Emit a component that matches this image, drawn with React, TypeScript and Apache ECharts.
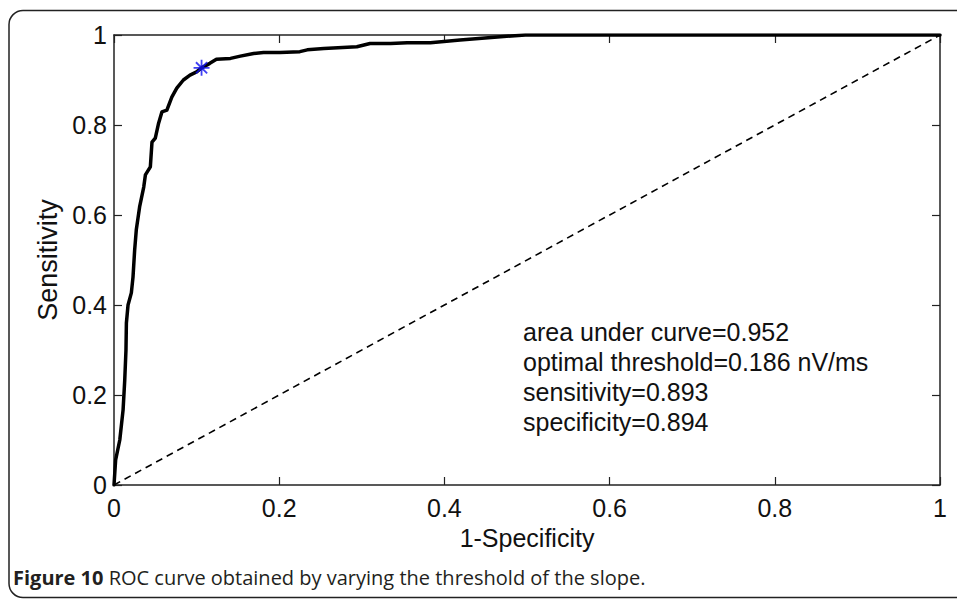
import React, { useEffect, useRef } from "react";
import * as echarts from "echarts";

// ROC curve points
const fpr = [0, 0.002, 0.007, 0.011, 0.013, 0.0145, 0.015, 0.017, 0.021, 0.023, 0.025, 0.027, 0.031, 0.036, 0.038, 0.044, 0.046, 0.05, 0.054, 0.058, 0.064, 0.07, 0.076, 0.084, 0.092, 0.1, 0.106, 0.116, 0.124, 0.141, 0.153, 0.169, 0.181, 0.201, 0.225, 0.234, 0.254, 0.294, 0.31, 0.335, 0.355, 0.383, 0.419, 0.468, 0.498, 1];
const tpr = [0, 0.056, 0.1, 0.167, 0.233, 0.3, 0.36, 0.4, 0.427, 0.462, 0.522, 0.567, 0.618, 0.662, 0.689, 0.707, 0.762, 0.771, 0.804, 0.829, 0.833, 0.862, 0.882, 0.9, 0.911, 0.918, 0.927, 0.937, 0.946, 0.948, 0.953, 0.959, 0.961, 0.961, 0.963, 0.967, 0.97, 0.974, 0.981, 0.981, 0.983, 0.983, 0.989, 0.996, 1, 1];
const diagX = [0, 1];
const diagY = [0, 1];
const optimalPoint = [0.106, 0.927];
const annotationLines = [
  "area under curve=0.952",
  "optimal threshold=0.186 nV/ms",
  "sensitivity=0.893",
  "specificity=0.894",
];
const xTitle = "1-Specificity";
const yTitle = "Sensitivity";
const captionBold = "Figure 10";
const captionRest = " ROC curve obtained by varying the threshold of the slope.";

const FONT = "'Liberation Sans', Arial, Helvetica, sans-serif";

export default function App() {
  const ref = useRef<HTMLDivElement>(null);
  useEffect(() => {
    const chart = echarts.init(ref.current!, null, { renderer: "svg" });
    const axisLineStyle = { color: "#222", width: 1.5 };
    const tick = { show: true, inside: true, length: 8, lineStyle: { color: "#222", width: 1.2 } };
    chart.setOption({
      animation: false,
      backgroundColor: "#fff",
      grid: { left: 114, top: 35, width: 826, height: 450, containLabel: false },
      xAxis: [
        {
          type: "value",
          min: 0,
          max: 1,
          interval: 0.2,
          position: "bottom",
          name: xTitle,
          nameLocation: "middle",
          nameGap: 40,
          nameTextStyle: { fontFamily: FONT, fontSize: 25, color: "#111" },
          axisLine: { show: true, onZero: false, lineStyle: axisLineStyle },
          axisTick: tick,
          axisLabel: { fontFamily: FONT, fontSize: 25, color: "#111", margin: 10 },
          splitLine: { show: false },
        },
        {
          type: "value",
          min: 0,
          max: 1,
          interval: 0.2,
          position: "top",
          axisLine: { show: true, onZero: false, lineStyle: axisLineStyle },
          axisTick: tick,
          axisLabel: { show: false },
          splitLine: { show: false },
        },
      ],
      yAxis: [
        {
          type: "value",
          min: 0,
          max: 1,
          interval: 0.2,
          position: "left",
          name: yTitle,
          nameLocation: "middle",
          nameGap: 52,
          nameTextStyle: { fontFamily: FONT, fontSize: 27, color: "#111" },
          axisLine: { show: true, onZero: false, lineStyle: axisLineStyle },
          axisTick: tick,
          axisLabel: { fontFamily: FONT, fontSize: 25, color: "#111", margin: 7 },
          splitLine: { show: false },
        },
        {
          type: "value",
          min: 0,
          max: 1,
          interval: 0.2,
          position: "right",
          axisLine: { show: true, onZero: false, lineStyle: axisLineStyle },
          axisTick: tick,
          axisLabel: { show: false },
          splitLine: { show: false },
        },
      ],
      series: [
        {
          type: "line",
          data: diagX.map((x, i) => [x, diagY[i]]),
          showSymbol: false,
          lineStyle: { color: "#000", width: 1.6, type: [7, 5] },
          z: 2,
        },
        {
          type: "line",
          data: fpr.map((x, i) => [x, tpr[i]]),
          showSymbol: false,
          lineStyle: { color: "#000", width: 3.5, join: "round", cap: "round" },
          z: 3,
        },
        {
          type: "scatter",
          data: [optimalPoint],
          symbol:
            "path://M0,-10L0,10M-10,0L10,0M-7,-7L7,7M-7,7L7,-7",
          symbolSize: 16,
          itemStyle: { color: "transparent", borderColor: "#1010f0", borderWidth: 1.8 },
          z: 4,
        },
      ],
      graphic: [
        {
          type: "rect",
          shape: { x: 9, y: 10.5, width: 1100, height: 587, r: 14 },
          style: { fill: "none", stroke: "#222", lineWidth: 1.5 },
          silent: true,
          z: -1,
        },
        {
          type: "text",
          x: 523,
          y: 317,
          style: {
            text: annotationLines.join("\n"),
            fontFamily: FONT,
            fontSize: 25,
            lineHeight: 30,
            fill: "#111",
            verticalAlign: "top",
          },
        },
        {
          type: "text",
          x: 13,
          y: 577,
          style: {
            text: "{b|" + captionBold + "}{r|" + captionRest + "}",
            verticalAlign: "middle",
            rich: {
              b: { fontFamily: "'Open Sans', sans-serif", fontWeight: "bold", fontSize: 20, fill: "#231f20" },
              r: { fontFamily: "'Open Sans', sans-serif", fontSize: 20, fill: "#231f20" },
            },
          },
        },
      ],
    });
    return () => chart.dispose();
  }, []);
  return (
    <div
      ref={ref}
      style={{ position: "fixed", left: 0, top: 0, width: 957, height: 599, background: "#fff" }}
    />
  );
}
